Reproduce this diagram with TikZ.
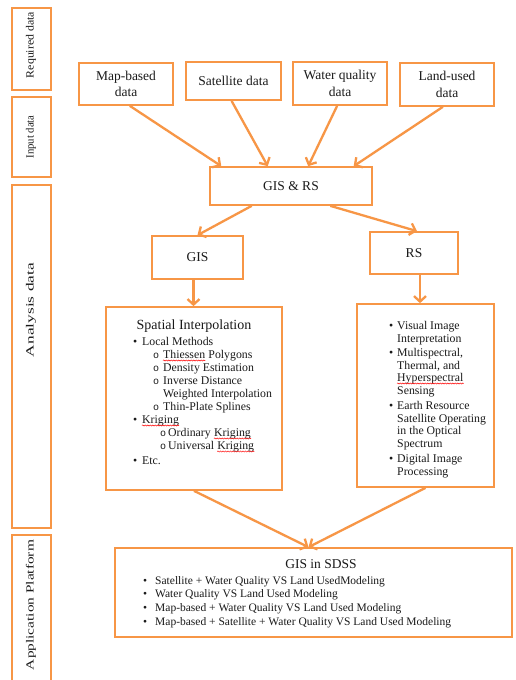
\documentclass[tikz,border=0pt]{standalone}
\usepackage{fontspec}
\setmainfont{Liberation Serif}
\newfontfamily\monofont{Liberation Mono}
\usetikzlibrary{arrows.meta,calc,decorations.pathmorphing}
\definecolor{orc}{HTML}{F79646}
\definecolor{txtc}{HTML}{1A1A1A}
\tikzset{
  box/.style={draw=orc, line width=1.7pt, fill=white, inner sep=0pt, text=txtc, align=center},
  arr/.style={draw=orc, line width=2.3pt, -{Straight Barb[length=5.5pt,width=12pt]}},
  txt/.style={inner sep=0pt, text=txtc},
  big/.style={font=\fontsize{13.5}{16.5}\selectfont},
  mid/.style={font=\fontsize{11.8}{13}\selectfont},
  li/.style={txt, mid, anchor=base west},
  lis/.style={txt, font=\fontsize{11.5}{13}\selectfont, anchor=base west},
  sub/.style={txt, anchor=base west, font=\monofont\fontsize{10}{12}\selectfont},
  sq/.style={draw=red, line width=0.5pt, decorate, decoration={snake, amplitude=0.6pt, segment length=2.5pt}},
  side/.style={txt, rotate=90}
}
\begin{document}
\begin{tikzpicture}[x=1pt,y=-1pt]
\clip (0,0) rectangle (515,680);
\fill[white] (0,0) rectangle (515,680);

% left stage boxes
\node[box, minimum width=39pt, minimum height=82pt] (lreq) at (31.5,49) {};
\node[box, minimum width=39pt, minimum height=80pt] (linp) at (31.5,137) {};
\node[box, minimum width=39pt, minimum height=343pt] (lana) at (31.5,356.5) {};
\node[box, minimum width=39pt, minimum height=160pt] (lapp) at (31.5,615) {};
\node[side] (treq) at (31,45) {\resizebox*{66pt}{10pt}{Required data}};
\node[side] (tinp) at (31,137) {\resizebox*{43pt}{10pt}{Input data}};
\node[side] (tana) at (31,310) {\resizebox*{94pt}{10pt}{Analysis data}};
\node[side] (tapp) at (31,605) {\resizebox*{130pt}{10pt}{Application Platform}};

% top data boxes
\node[box, big, minimum width=94pt, minimum height=42pt] (mb) at (126,84) {Map-based\\data};
\node[box, big, minimum width=95pt, minimum height=38pt] (sat) at (233.5,81) {Satellite data};
\node[box, big, minimum width=94pt, minimum height=43pt] (wq) at (340,83.5) {Water quality\\data};
\node[box, big, minimum width=94pt, minimum height=43pt] (lu) at (447,84.5) {Land-used\\data};

\node[box, big, minimum width=162pt, minimum height=38pt] (gisrs) at (291,186) {GIS \& RS};
\node[box, big, minimum width=91pt, minimum height=43pt] (gis) at (197.5,257.5) {GIS};
\node[box, big, minimum width=88pt, minimum height=42pt] (rs) at (414,253) {RS};

\node[box, minimum width=176pt, minimum height=183pt] (sp) at (194,398.5) {};
\node[box, minimum width=137pt, minimum height=183pt] (rb) at (425.5,395.5) {};
\node[box, minimum width=397pt, minimum height=89pt] (sd) at (313.5,592.5) {};

% connectors
\coordinate (g1) at ($(gis.south)+(-4,0)$);
\coordinate (r1) at ($(rs.south)+(6,0)$);
\coordinate (sdin) at ($(sd.north)+(-5,0)$);
\draw[arr] ($(mb.south west)!0.54!(mb.south east)$) -- ($(gisrs.north west)!0.074!(gisrs.north east)$);
\draw[arr] ($(sat.south west)!0.48!(sat.south east)$) -- ($(gisrs.north west)!0.358!(gisrs.north east)$);
\draw[arr] ($(wq.south west)!0.47!(wq.south east)$) -- ($(gisrs.north west)!0.605!(gisrs.north east)$);
\draw[arr] ($(lu.south west)!0.457!(lu.south east)$) -- ($(gisrs.north west)!0.883!(gisrs.north east)$);
\draw[arr] ($(gisrs.south west)!0.26!(gisrs.south east)$) -- (gis.north);
\draw[arr] ($(gisrs.south west)!0.74!(gisrs.south east)$) -- ($(rs.north)+(3,0)$);
\draw[arr] (g1) -- (g1 |- sp.north);
\draw[arr] (r1) -- (r1 |- rb.north);
\draw[arr] (sp.south) -- (sdin);
\draw[arr] (rb.south) -- (sdin);

% spatial interpolation text
\node[txt, anchor=base, font=\fontsize{14}{16}\selectfont] (spt) at (194,329) {Spatial Interpolation};
\node[li] (sb1) at (133,345) {•};
\node[li] (st1) at (142,345) {Local Methods};
\node[sub] (sc1) at (153,358) {o};
\node[li] (st2a) at (163,358) {Thiessen};
\node[li] (st2b) at ($(st2a.base east)+(2.95,0)$) {Polygons};
\node[sub] (sc2) at (153,371) {o};
\node[li] (st3) at (163,371) {Density Estimation};
\node[sub] (sc3) at (153,384) {o};
\node[li] (st4) at (163,384) {Inverse Distance};
\node[li] (st5) at (163,397) {Weighted Interpolation};
\node[sub] (sc4) at (153,410) {o};
\node[li] (st6) at (163,410) {Thin-Plate Splines};
\node[li] (sb2) at (133,423) {•};
\node[li] (st7) at (142,423) {Kriging};
\node[sub] (sc5) at (160,436) {o};
\node[li] (st8a) at (168,436) {Ordinary};
\node[li] (st8b) at ($(st8a.base east)+(2.95,0)$) {Kriging};
\node[sub] (sc6) at (160,449) {o};
\node[li] (st9a) at (168,449) {Universal};
\node[li] (st9b) at ($(st9a.base east)+(2.95,0)$) {Kriging};
\node[li] (sb3) at (133,464) {•};
\node[li] (st10) at (142,464) {Etc.};
\draw[sq] ($(st2a.base west)+(0,2.5)$) -- ($(st2a.base east)+(0,2.5)$);
\draw[sq] ($(st7.base west)+(0,2.5)$) -- ($(st7.base east)+(0,2.5)$);
\draw[sq] ($(st8b.base west)+(0,2.5)$) -- ($(st8b.base east)+(0,2.5)$);
\draw[sq] ($(st9b.base west)+(0,2.5)$) -- ($(st9b.base east)+(0,2.5)$);

% RS text
\node[li] (rb1) at (389,329) {•};
\node[li] (rt1) at (397,329) {Visual Image};
\node[li] (rt2) at (397,342) {Interpretation};
\node[li] (rb2) at (389,356) {•};
\node[li] (rt3) at (397,356) {Multispectral,};
\node[li] (rt4) at (397,369) {Thermal, and};
\node[li] (rt5) at (397,381) {Hyperspectral};
\node[li] (rt6) at (397,394) {Sensing};
\node[li] (rb3) at (389,409) {•};
\node[li] (rt7) at (397,409) {Earth Resource};
\node[li] (rt8) at (397,422) {Satellite Operating};
\node[li] (rt9) at (397,434) {in the Optical};
\node[li] (rt10) at (397,447) {Spectrum};
\node[li] (rb4) at (389,462) {•};
\node[li] (rt11) at (397,462) {Digital Image};
\node[li] (rt12) at (397,475) {Processing};
\draw[sq] ($(rt5.base west)+(0,2.5)$) -- ($(rt5.base east)+(0,2.5)$);

% SDSS text
\node[txt, anchor=base, big] (sdt) at (321,568) {GIS in SDSS};
\node[lis] (db1) at (143,584) {•};
\node[lis] (dt1) at (155,584) {Satellite + Water Quality VS Land UsedModeling};
\node[lis] (db2) at (143,597) {•};
\node[lis] (dt2) at (155,597) {Water Quality VS Land Used Modeling};
\node[lis] (db3) at (143,611) {•};
\node[lis] (dt3) at (155,611) {Map-based + Water Quality VS Land Used Modeling};
\node[lis] (db4) at (143,625) {•};
\node[lis] (dt4) at (155,625) {Map-based + Satellite + Water Quality VS Land Used Modeling};
\end{tikzpicture}
\end{document}
